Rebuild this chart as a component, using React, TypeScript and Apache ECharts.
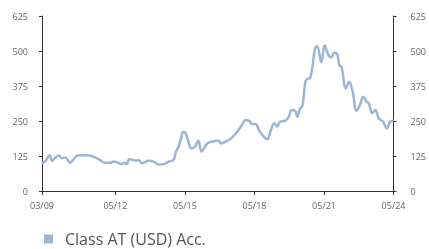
import React, { useEffect, useRef } from "react";
import * as echarts from "echarts";

// month offsets from March 2009
const monthOffsets = [
  0, 1.9, 3.9, 5.2, 7.0, 8.7, 10.3, 12.1, 14.6, 16.3, 18.5, 22.3, 24.8, 27.4, 29.9, 32.5,
  35.8, 36.7, 39.2, 40.9, 42.7, 43.8, 45.2, 47.2, 48.9, 49.9, 51.6, 55.4, 58.0, 60.5, 63.0,
  65.6, 68.1, 69.3, 70.7, 72.0, 73.2, 74.4, 75.8, 77.5, 79.2, 80.9, 82.6, 84.3, 86.0, 88.5,
  91.1, 92.8, 95.3, 97.9, 100.4, 103.0, 105.5, 107.2, 108.9, 110.6, 112.3, 114.8, 116.6,
  118.2, 120.3, 121.7, 123.3, 125.9, 127.6, 129.3, 131.0, 132.2, 133.5, 134.9, 136.1, 137.0,
  138.6, 140.0, 141.2, 142.4, 144.6, 146.3, 148.0, 149.7, 151.4, 152.8, 153.9, 155.1, 157.3,
  159.0, 160.7, 162.9, 164.6, 166.3, 168.0, 169.2, 170.9, 172.6, 174.3, 176.5, 178.5, 180.3,
  182,
];
const navValues = [
  100, 108, 128, 108, 120, 127, 118, 120, 101, 113, 127, 128, 127, 120, 111, 101,
  101, 105, 102, 96, 101, 96, 113, 111, 108, 111, 99, 108, 104, 95, 96,
  105, 111, 140, 158, 188, 212, 206, 176, 152, 158, 180, 140, 158, 172, 177,
  180, 170, 177, 188, 206, 230, 254, 251, 239, 239, 218, 194, 185,
  212, 242, 230, 248, 251, 263, 289, 287, 265, 292, 307, 379, 399,
  402, 444, 504, 518, 460, 520, 490, 477, 494, 489, 450, 442, 367,
  390, 358, 287, 307, 337, 319, 313, 278, 289, 260, 248, 224, 248,
  251,
];
const xTickPositions = [0, 38, 74, 110, 146, 182];
const xTickLabels = ["03/09", "05/12", "05/15", "05/18", "05/21", "05/24"];
const seriesName = "Class AT (USD) Acc.";

export default function App() {
  const ref = useRef<HTMLDivElement>(null);
  useEffect(() => {
    if (!ref.current) return;
    const chart = echarts.init(ref.current, null, { renderer: "svg" });
    const lineColor = "#9db5d3";
    const axisColor = "#333333";
    const labelColor = "#666666";
    const font = "Open Sans";
    const yAxisCommon = {
      type: "value" as const,
      min: 0,
      max: 625,
      interval: 125,
      splitLine: { show: false },
      axisLine: { show: true, lineStyle: { color: axisColor, width: 1 } },
      axisTick: { show: true, length: 3, lineStyle: { color: axisColor } },
    };
    chart.setOption({
      animation: false,
      grid: { left: 42, right: 29, top: 16, bottom: 58 },
      legend: {
        data: [{ name: seriesName, icon: "rect" }],
        left: 44,
        top: 231,
        padding: 0,
        itemWidth: 9,
        itemHeight: 9,
        textStyle: {
          color: "#555555",
          fontSize: 16,
          fontFamily: font,
          padding: [0, 0, 0, 7],
        },
      },
      xAxis: {
        type: "value",
        min: 0,
        max: 182,
        splitLine: { show: false },
        axisLine: { show: true, lineStyle: { color: axisColor, width: 1 } },
        axisTick: {
          show: true,
          length: 4,
          customValues: xTickPositions,
          lineStyle: { color: axisColor },
        },
        axisLabel: {
          customValues: xTickPositions,
          color: labelColor,
          fontSize: 9,
          fontFamily: font,
          margin: 10,
          formatter: (v: number) => {
            const i = xTickPositions.indexOf(v);
            return i >= 0 ? xTickLabels[i] : "";
          },
        },
      },
      yAxis: [
        {
          ...yAxisCommon,
          position: "left",
          axisLabel: { color: labelColor, fontSize: 9, fontFamily: font, margin: 14 },
        },
        {
          ...yAxisCommon,
          position: "right",
          axisLabel: { color: labelColor, fontSize: 9, fontFamily: font, margin: 17 },
        },
      ],
      series: [
        {
          name: seriesName,
          type: "line",
          yAxisIndex: 0,
          data: monthOffsets.map((m, i) => [m, navValues[i]]),
          showSymbol: false,
          smooth: 0.4,
          lineStyle: { color: lineColor, width: 2.5 },
          itemStyle: { color: lineColor },
        },
      ],
    });
    return () => chart.dispose();
  }, []);
  return (
    <div
      ref={ref}
      style={{ position: "fixed", left: 0, top: 0, width: 429, height: 249 }}
    />
  );
}
